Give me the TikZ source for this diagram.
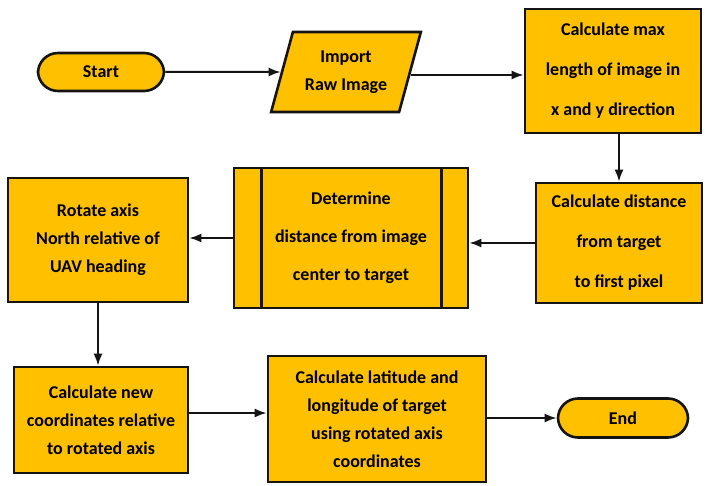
\documentclass[tikz,border=0pt]{standalone}
\usepackage{fontspec}
\setmainfont{Carlito}
\usetikzlibrary{arrows.meta,calc,shapes.geometric}
\definecolor{stepgold}{RGB}{255,192,0}
\definecolor{stepink}{RGB}{20,20,20}
\tikzset{
  >={Latex[length=2.6mm]},
  flow/.style={-Latex, line width=2pt, draw=stepink},
  box/.style={
    draw=stepink,
    line width=2.6pt,
    fill=stepgold,
    align=center,
    inner sep=4pt,
    font=\fontsize{18}{28}\selectfont\bfseries
  },
  termbox/.style={box, rounded corners=20pt},
  iobox/.style={box, trapezium, trapezium left angle=70,
    trapezium right angle=110, trapezium stretches=true},
  sideline/.style={draw=stepink, line width=2.6pt}
}
\begin{document}
\begin{tikzpicture}[x=1pt,y=-1pt]
  \useasboundingbox (0,0) rectangle (706,486);
  \node[termbox,minimum width=126pt,minimum height=38pt] (start) at (101,72) {Start};
  \node[iobox,minimum width=150pt,minimum height=80pt] (import) at (346,72) {Import\\Raw Image};
  \node[box,minimum width=176pt,minimum height=124pt] (calcmax) at (613,71) {Calculate max\\[12pt]length of image in\\[12pt]x and y direction};
  \node[box,minimum width=166pt,minimum height=120pt] (calcdist) at (619,243) {Calculate distance\\[12pt]from target\\[12pt]to first pixel};
  \node[box,minimum width=234pt,minimum height=140pt] (determine) at (351,238) {Determine\\[10pt]distance from image\\[10pt]center to target};
  \draw[sideline] ([xshift=29pt]determine.north west) -- ([xshift=29pt]determine.south west);
  \draw[sideline] ([xshift=-28pt]determine.north east) -- ([xshift=-28pt]determine.south east);
  \node[box,minimum width=180pt,minimum height=124pt] (rotate) at (98,240) {Rotate axis\\North relative of\\UAV heading};
  \node[box,minimum width=174pt,minimum height=106pt] (calcnew) at (101,420) {Calculate new\\coordinates relative\\to rotated axis};
  \node[box,minimum width=218pt,minimum height=126pt] (calclat) at (377,419) {Calculate latitude and\\longitude of target\\using rotated axis\\coordinates};
  \node[termbox,minimum width=130pt,minimum height=39pt] (end) at (623,418) {End};

  \draw[flow] (start) -- (import);
  \draw[flow] (import.east |- 0,75) -- (calcmax.west |- 0,75);
  \draw[flow] (calcdist.north |- calcmax.south) -- (calcdist.north);
  \draw[flow] (calcdist.west) -- (determine.east |- calcdist.west);
  \draw[flow] (determine.west) -- (rotate.east |- determine.west);
  \draw[flow] (rotate.south) -- (rotate.south |- calcnew.north);
  \draw[flow] (calcnew.east |- 0,413) -- (calclat.west |- 0,413);
  \draw[flow] (calclat.east |- end.west) -- (end.west);
\end{tikzpicture}
\end{document}
